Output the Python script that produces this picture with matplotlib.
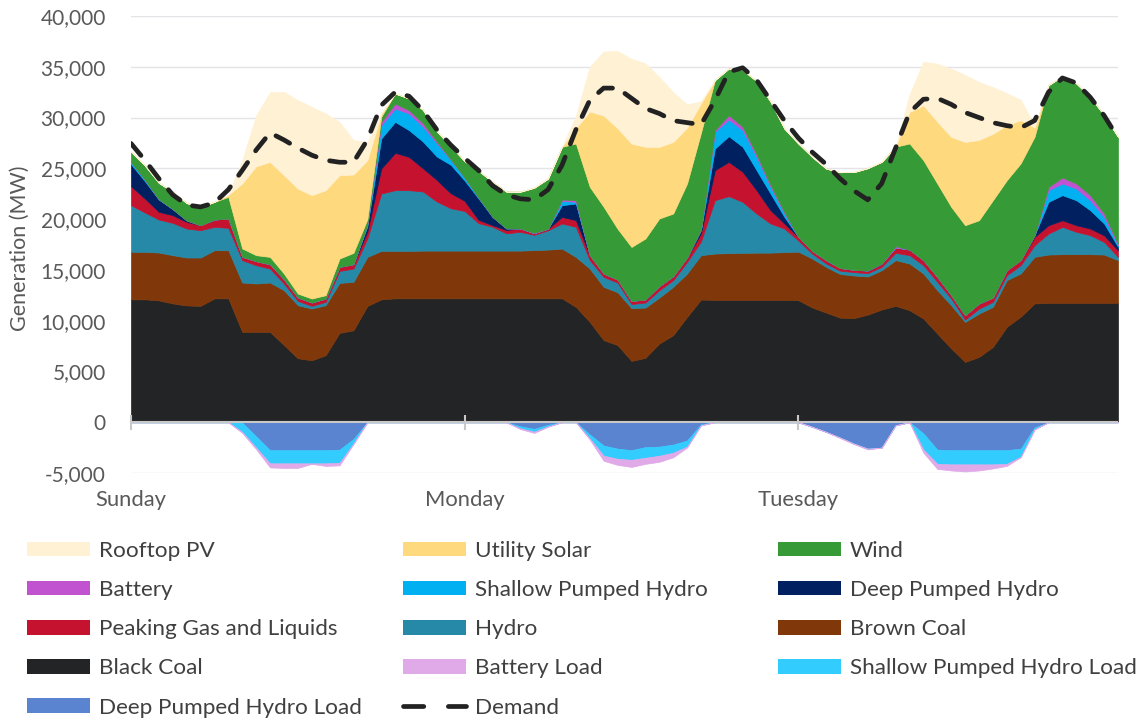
import numpy as np
import matplotlib.pyplot as plt
from matplotlib.patches import Patch
from matplotlib.lines import Line2D
from matplotlib.ticker import FuncFormatter

plt.rcParams['font.family'] = ['Lato', 'DejaVu Sans']

# hourly values, Sunday 00:00 .. Tuesday 23:00 (MW)
hours = np.arange(72)
day_ticks = [0, 24, 48]
day_labels = ['Sunday', 'Monday', 'Tuesday']

black_coal = [12100, 12100, 12000, 11700, 11500, 11460, 12200, 12200, 8900, 8900, 8900, 7600,
              6300, 6100, 6600, 8800, 9050, 11450, 12100, 12200, 12200, 12200, 12200, 12200,
              12200, 12200, 12200, 12200, 12200, 12200, 12200, 12200, 11360, 9880, 8080, 7600,
              6040, 6340, 7750, 8570, 10370, 12080, 12050, 12050, 12050, 12050, 12050, 12050,
              12020, 11300, 10800, 10300, 10250, 10600, 11100, 11460, 11030, 10210, 8730, 7260,
              5940, 6430, 7420, 9390, 10400, 11700, 11750, 11750, 11750, 11750, 11750, 11750]
brown_coal = [4680, 4680, 4710, 4750, 4720, 4760, 4740, 4740, 4860, 4760, 4860, 5400,
              5220, 5100, 4920, 4920, 4770, 4830, 4770, 4670, 4670, 4700, 4700, 4700,
              4700, 4700, 4700, 4700, 4700, 4750, 4800, 4900, 4920, 5250, 5250, 5200,
              5200, 4950, 4530, 4760, 4270, 4370, 4560, 4600, 4630, 4650, 4650, 4700,
              4780, 4820, 4500, 4300, 4200, 3750, 3870, 4500, 4600, 4430, 4270, 4260,
              3940, 4270, 3940, 4600, 4250, 4590, 4760, 4800, 4800, 4800, 4760, 4210]
hydro = [4600, 3870, 3250, 3180, 2850, 2690, 2300, 2200, 2200, 1800, 1370, 660,
         430, 260, 330, 1180, 1310, 1800, 5650, 5980, 5980, 5820, 4830, 4170,
         3900, 2700, 2350, 1700, 1850, 1500, 1900, 2470, 2960, 830, 980, 950,
         400, 500, 720, 660, 1150, 1350, 5250, 5610, 5020, 3850, 2870, 2320,
         1100, 490, 330, 330, 330, 330, 330, 720, 820, 820, 820, 660,
         230, 490, 490, 490, 820, 1150, 2070, 2690, 2200, 1870, 1250, 320]
peaking_gas = [1870, 1380, 760, 760, 660, 490, 720, 920, 330, 400, 430, 420,
               330, 330, 330, 400, 430, 700, 2460, 3680, 3280, 2290, 2130, 1480,
               1000, 330, 160, 330, 330, 160, 160, 650, 660, 490, 330, 300,
               300, 300, 400, 390, 430, 800, 2960, 3380, 2960, 2300, 1310, 500,
               350, 260, 330, 260, 230, 260, 330, 520, 550, 500, 490, 330,
               430, 500, 430, 490, 500, 820, 820, 650, 650, 650, 640, 660]
deep_ph = [2160, 1700, 1200, 600, 150, 0, 0, 0, 0, 0, 0, 0,
           0, 0, 0, 0, 0, 500, 2960, 3050, 2630, 2630, 2300, 2800,
           2000, 2100, 820, 160, 0, 0, 0, 1150, 1640, 0, 0, 0,
           0, 0, 0, 0, 0, 300, 2130, 2530, 2460, 1970, 1640, 650,
           0, 0, 0, 0, 0, 0, 0, 0, 0, 0, 0, 0,
           0, 0, 0, 0, 0, 160, 2300, 2470, 2460, 1810, 1170, 330]
shallow_ph = [230, 150, 50, 0, 0, 0, 0, 0, 0, 0, 0, 0,
              0, 0, 0, 0, 0, 200, 1300, 1310, 1640, 1480, 1320, 500,
              300, 100, 0, 0, 0, 0, 0, 430, 160, 0, 0, 0,
              0, 0, 0, 0, 0, 100, 1650, 1640, 1640, 1310, 660, 330,
              0, 0, 0, 0, 0, 0, 0, 0, 0, 0, 0, 0,
              0, 0, 0, 0, 0, 0, 1150, 1150, 1150, 980, 650, 160]
battery = [0, 0, 0, 0, 0, 0, 0, 0, 0, 0, 0, 0,
           0, 0, 0, 0, 0, 0, 330, 490, 330, 330, 160, 50,
           0, 0, 0, 0, 0, 50, 0, 130, 160, 0, 0, 0,
           0, 0, 0, 0, 0, 0, 160, 430, 330, 250, 200, 150,
           0, 0, 0, 0, 0, 0, 0, 130, 0, 0, 0, 0,
           0, 0, 0, 0, 0, 0, 330, 590, 500, 500, 330, 170]
wind = [990, 1400, 1600, 1700, 1700, 1810, 1740, 2130, 820, 590, 720, 560,
        390, 390, 330, 820, 1120, 500, 500, 990, 1150, 1310, 990, 1300,
        1600, 2630, 3450, 3620, 3620, 4430, 4930, 5190, 5590, 6730, 6570, 5000,
        5320, 6000, 6660, 6170, 7290, 9500, 4920, 4590, 5580, 7220, 8200, 8210,
        9200, 9260, 9020, 9430, 9620, 10080, 10010, 9800, 10450, 9840, 9200, 8700,
        8860, 8200, 9580, 8860, 9520, 9700, 10010, 9980, 9850, 9680, 9690, 10500]
utility_solar = [0, 0, 0, 0, 0, 0, 0, 200, 6400, 8760, 9360, 9690,
                 10340, 10180, 10340, 8210, 7710, 5820, 300, 0, 0, 0, 0, 0,
                 0, 0, 0, 0, 0, 0, 0, 0, 1500, 7420, 8990, 9900,
                 10180, 9030, 7060, 7050, 5500, 2900, 0, 0, 0, 0, 0, 0,
                 0, 0, 0, 0, 0, 0, 0, 0, 3100, 5400, 6090, 6890,
                 8200, 7910, 6540, 5420, 4260, 900, 0, 0, 0, 0, 0, 0]
rooftop_pv = [0, 0, 0, 0, 0, 0, 0, 0, 2300, 5000, 6860, 8200,
              8700, 8700, 7550, 5250, 3380, 1800, 0, 0, 0, 0, 0, 0,
              0, 0, 0, 0, 0, 0, 0, 0, 1200, 4400, 6300, 7600,
              8350, 8210, 6880, 4900, 2300, 200, 0, 0, 0, 0, 0, 0,
              0, 0, 0, 0, 0, 0, 0, 0, 1700, 4300, 5700, 6700,
              6600, 5700, 4600, 3150, 2000, 200, 0, 0, 0, 0, 0, 0]

deep_ph_load = [0, 0, 0, 0, 0, 0, 0, 0, -50, -1400, -2750, -2750,
                -2750, -2750, -2750, -2700, -1650, 0, 0, 0, 0, 0, 0, 0,
                0, 0, 0, 0, -400, -650, -250, 0, 0, -1200, -2300, -2600,
                -2750, -2450, -2400, -2200, -1800, -200, 0, 0, 0, 0, 0, 0,
                0, -450, -950, -1500, -2100, -2600, -2500, -300, 0, -1100, -2700, -2750,
                -2750, -2750, -2750, -2750, -2600, -500, 0, 0, 0, 0, 0, 0]
shallow_ph_load = [0, 0, 0, 0, 0, 0, 0, 0, -900, -1100, -1300, -1300,
                   -1300, -1300, -1300, -1300, -450, 0, 0, 0, 0, 0, 0, 0,
                   0, 0, 0, 0, -200, -280, -150, 0, 0, -400, -1000, -1000,
                   -950, -1050, -900, -800, -600, -100, 0, 0, 0, 0, 0, 0,
                   0, 0, 0, 0, 0, 0, 0, 0, 0, -1600, -1400, -1400,
                   -1400, -1400, -1400, -1350, -800, -200, 0, 0, 0, 0, 0, 0]
battery_load = [0, 0, 0, 0, 0, 0, 0, 0, -100, -150, -400, -450,
                -450, -50, -250, -250, -50, 0, 0, 0, 0, 0, 0, 0,
                0, 0, 0, 0, -70, -120, -50, 0, 0, -100, -500, -600,
                -700, -600, -600, -450, -100, 0, 0, 0, 0, 0, 0, 0,
                0, 0, 0, -50, -50, -80, 0, 0, 0, -300, -500, -600,
                -700, -600, -400, -200, -50, 0, 0, 0, 0, 0, 0, 0]

demand = [27450, 25800, 24000, 22400, 21400, 21200, 21600, 22900, 24800, 26800, 28500, 27800,
          27000, 26300, 25800, 25600, 25600, 27800, 31200, 32500, 32100, 30700, 28800, 27300,
          26000, 24800, 23300, 22400, 22000, 21900, 22900, 25300, 28800, 31700, 32900, 32900,
          31900, 30900, 30400, 29700, 29500, 29300, 31700, 34500, 34900, 33700, 31700, 29700,
          28000, 26600, 25400, 24000, 22800, 21900, 23500, 27000, 30500, 31800, 31900, 31300,
          30500, 30000, 29500, 29200, 29000, 29700, 32500, 33900, 33400, 32000, 30200, 28000]

c_roof, c_util, c_wind = '#FFF1D4', '#FFD97E', '#369A36'
c_batt, c_shal, c_deep = '#C152D0', '#00B0F0', '#002060'
c_peak, c_hydro, c_brown = '#C4122F', '#2689A7', '#80380A'
c_black, c_battl, c_shall, c_deepl = '#232426', '#E0A9E8', '#33CCFF', '#5A83D0'

fig = plt.figure(figsize=(11.39, 7.19), dpi=100)
ax = fig.add_axes([131 / 1139, 1 - 473 / 719, 987 / 1139, 457 / 719])

gen = [black_coal, brown_coal, hydro, peaking_gas, deep_ph, shallow_ph, battery, wind,
       utility_solar, rooftop_pv]
gen_cols = [c_black, c_brown, c_hydro, c_peak, c_deep, c_shal, c_batt, c_wind, c_util, c_roof]
polys = ax.stackplot(hours, *gen, colors=gen_cols, lw=0.5, zorder=2)
loads = ax.stackplot(hours, deep_ph_load, shallow_ph_load, battery_load,
                     colors=[c_deepl, c_shall, c_battl], lw=0.5, zorder=2)
for p, c in zip(polys + loads, gen_cols + [c_deepl, c_shall, c_battl]):
    p.set_edgecolor(c)

ax.plot(hours, demand, color='#222222', lw=3.4, dashes=(3.3, 3.0),
        dash_capstyle='round', zorder=5)

ax.axhline(0, color='#c8c8c8', lw=1.5, zorder=4)
ax.vlines(day_ticks, -800, 700, color='#c8c8c8', lw=1.5, zorder=4, clip_on=False)

ax.set_xlim(0, 71)
ax.set_ylim(-5000, 40000)
ax.set_yticks(range(-5000, 40001, 5000))
ax.yaxis.set_major_formatter(FuncFormatter(lambda v, p: f'{int(v):,}'))
ax.set_xticks(day_ticks)
ax.set_xticklabels(day_labels)
ax.tick_params(axis='both', length=0, labelsize=15, labelcolor='#595959')
ax.tick_params(axis='x', labelsize=15.8, pad=12)
ax.tick_params(axis='y', pad=18)
ax.grid(axis='y', color='#e3e3e8', lw=1)
ax.set_axisbelow(True)
for s in ax.spines.values():
    s.set_visible(False)

fig.text(20 / 1139, 1 - 248 / 719, 'Generation (MW)', rotation=90, ha='center', va='center',
         fontsize=15.5, color='#595959')

dem_handle = Line2D([], [], color='#222222', lw=3.4, dashes=(4.3, 5.2), dash_capstyle='round')
columns = [
    (27, [('Rooftop PV', c_roof), ('Battery', c_batt), ('Peaking Gas and Liquids', c_peak),
          ('Black Coal', c_black), ('Deep Pumped Hydro Load', c_deepl)]),
    (403, [('Utility Solar', c_util), ('Shallow Pumped Hydro', c_shal), ('Hydro', c_hydro),
           ('Battery Load', c_battl), ('Demand', None)]),
    (778, [('Wind', c_wind), ('Deep Pumped Hydro', c_deep), ('Brown Coal', c_brown),
           ('Shallow Pumped Hydro Load', c_shall)]),
]
for x0, items in columns:
    handles = [dem_handle if c is None else Patch(facecolor=c, edgecolor='none') for _, c in items]
    labels = [t for t, _ in items]
    fig.legend(handles, labels, loc='upper left', bbox_to_anchor=(x0 / 1139, 1 - 541 / 719),
               frameon=False, fontsize=16.2, handlelength=2.8, handleheight=0.62,
               handletextpad=0.4, labelspacing=0.85, borderpad=0, borderaxespad=0,
               labelcolor='#404040')

fig.savefig('out.png', dpi=100)
